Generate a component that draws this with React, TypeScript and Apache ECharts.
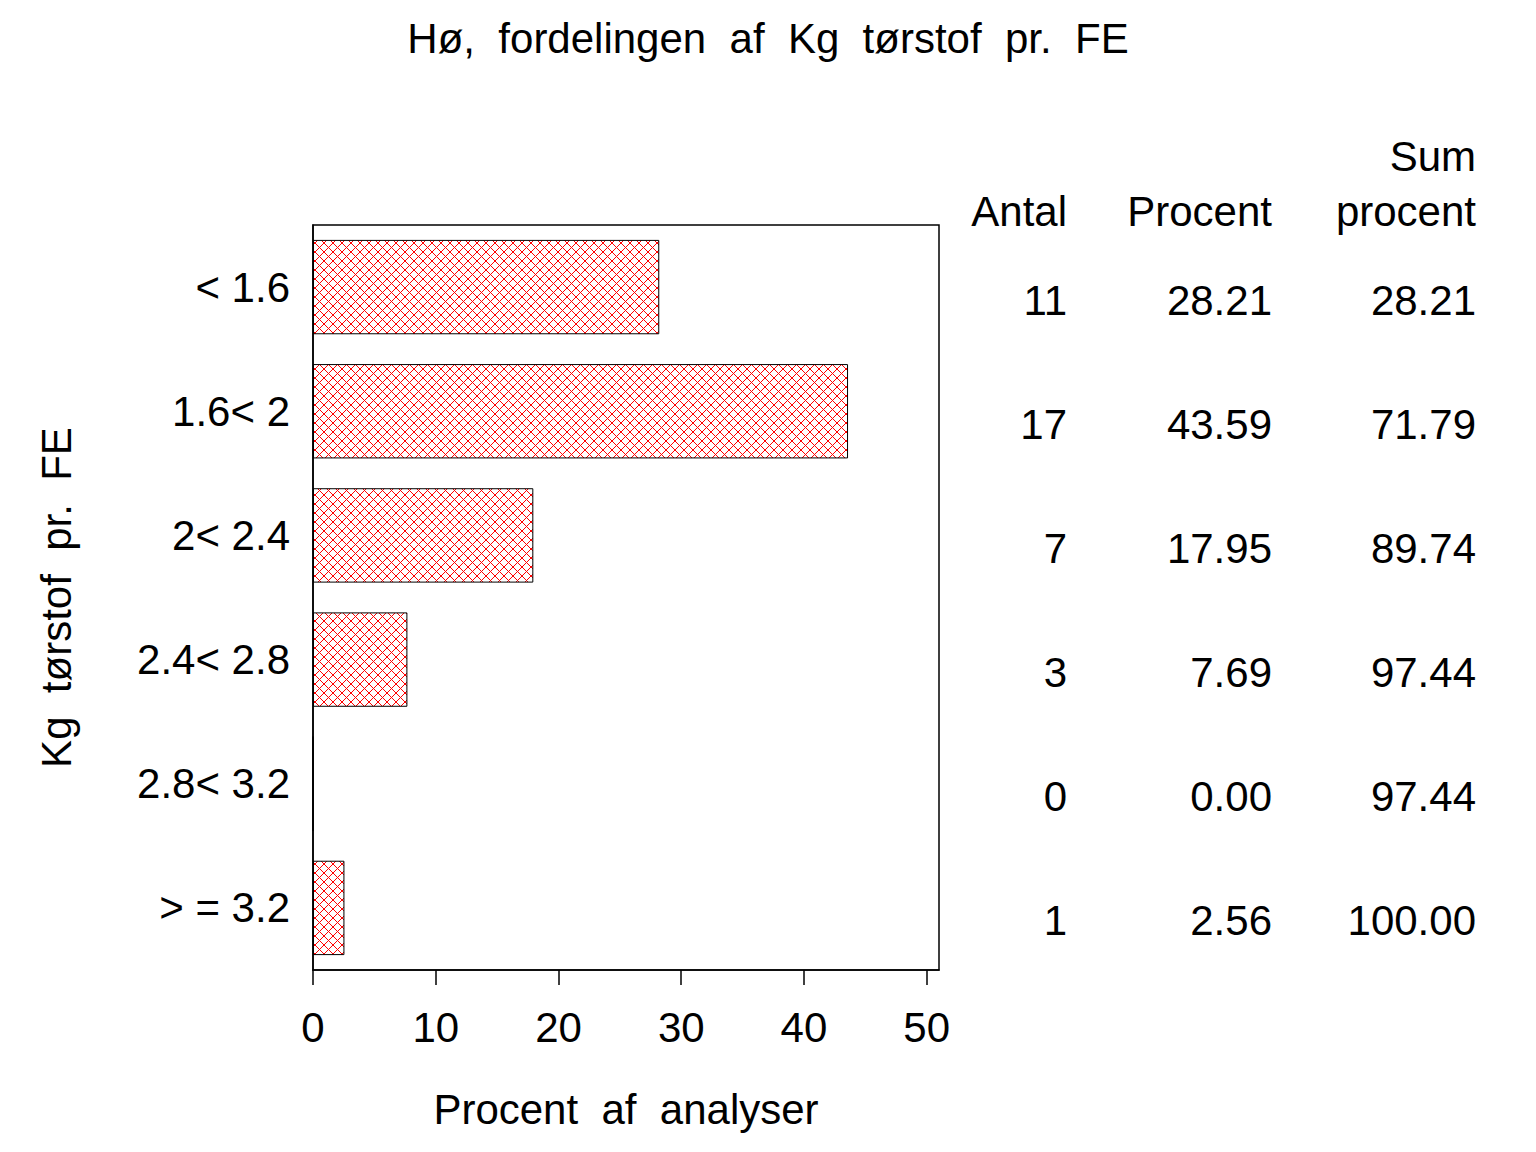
import * as echarts from 'echarts';
import { useEffect, useRef } from 'react';

const categories = ['< 1.6', '1.6< 2', '2< 2.4', '2.4< 2.8', '2.8< 3.2', '> = 3.2'];
const percent = [28.21, 43.59, 17.95, 7.69, 0.0, 2.56];
const counts = [11, 17, 7, 3, 0, 1];
const cumPercent = [28.21, 71.79, 89.74, 97.44, 97.44, 100.0];
const xTicks = [0, 10, 20, 30, 40, 50];

const FONT = "'Liberation Sans', Arial, sans-serif";

// red cross hatch tile
const makeHatch = () => {
  const c = document.createElement('canvas');
  c.width = 9;
  c.height = 9;
  const ctx = c.getContext('2d')!;
  ctx.fillStyle = '#ff0000';
  for (let i = 0; i < 9; i++) {
    ctx.fillRect(i, i, 1, 1);
    ctx.fillRect(8 - i, i, 1, 1);
  }
  return c;
};

const GRID_RIGHT = 939;

const tableAxis = (colRight: number, values: string[]) => ({
  type: 'category' as const,
  data: categories,
  inverse: true,
  position: 'right' as const,
  offset: colRight - GRID_RIGHT,
  axisLine: { show: false },
  axisTick: { show: false },
  splitLine: { show: false },
  axisLabel: {
    margin: 0,
    align: 'right' as const,
    verticalAlign: 'top' as const,
    lineHeight: 26,
    fontSize: 42,
    fontFamily: FONT,
    color: '#000',
    formatter: (_v: string, i: number) => values[i],
  },
});

const App: React.FC = () => {
  const chartRef = useRef<HTMLDivElement>(null);

  useEffect(() => {
    if (!chartRef.current) return;
    const chart = echarts.init(chartRef.current, null, { renderer: 'svg' });

    const hatch = makeHatch();

    chart.setOption({
      animation: false,
      backgroundColor: '#fff',
      title: {
        text: 'Hø,  fordelingen  af  Kg  tørstof  pr.  FE',
        left: 'center',
        top: 12,
        textStyle: { fontSize: 42, fontWeight: 'normal', fontFamily: FONT, color: '#000' },
      },
      grid: {
        left: 313,
        top: 225,
        right: 1536 - GRID_RIGHT,
        bottom: 1152 - 970,
        show: true,
        borderColor: '#000',
        borderWidth: 1.5,
        backgroundColor: 'transparent',
      },
      xAxis: {
        type: 'value',
        min: 0,
        max: 51,
        interval: 10,
        name: 'Procent  af  analyser',
        nameLocation: 'middle',
        nameGap: 118,
        nameTextStyle: { fontSize: 42, fontFamily: FONT, color: '#000' },
        axisLine: { show: true, lineStyle: { color: '#000', width: 1.5 } },
        axisTick: { show: true, length: 15, lineStyle: { color: '#000', width: 1.5 }, customValues: xTicks },
        axisLabel: {
          margin: 36,
          fontSize: 42,
          fontFamily: FONT,
          color: '#000',
          customValues: xTicks,
        },
        splitLine: { show: false },
      },
      yAxis: [
        {
          type: 'category',
          data: categories,
          inverse: true,
          name: 'Kg  tørstof  pr.  FE',
          nameLocation: 'middle',
          nameRotate: 90,
          nameGap: 236,
          nameTextStyle: { fontSize: 42, fontFamily: FONT, color: '#000' },
          axisLine: { show: true, lineStyle: { color: '#000', width: 1.5 } },
          axisTick: { show: false },
          axisLabel: {
            margin: 23,
            fontSize: 42,
            fontFamily: FONT,
            color: '#000',
          },
          splitLine: { show: false },
        },
        tableAxis(1067, counts.map((v) => String(v))),
        tableAxis(1272, percent.map((v) => v.toFixed(2))),
        tableAxis(1476, cumPercent.map((v) => v.toFixed(2))),
      ],
      graphic: [
        {
          type: 'text',
          x: 1067,
          y: 211,
          style: { text: 'Antal', fontSize: 42, fontFamily: FONT, fill: '#000', align: 'right', verticalAlign: 'middle' },
        },
        {
          type: 'text',
          x: 1272,
          y: 211,
          style: { text: 'Procent', fontSize: 42, fontFamily: FONT, fill: '#000', align: 'right', verticalAlign: 'middle' },
        },
        {
          type: 'text',
          x: 1476,
          y: 156,
          style: { text: 'Sum', fontSize: 42, fontFamily: FONT, fill: '#000', align: 'right', verticalAlign: 'middle' },
        },
        {
          type: 'text',
          x: 1476,
          y: 211,
          style: { text: 'procent', fontSize: 42, fontFamily: FONT, fill: '#000', align: 'right', verticalAlign: 'middle' },
        },
      ],
      series: [
        {
          type: 'bar',
          yAxisIndex: 0,
          data: percent,
          barCategoryGap: '24%',
          itemStyle: {
            color: { image: hatch, repeat: 'repeat', imageWidth: 9, imageHeight: 9 },
            borderColor: '#000',
            borderWidth: 1,
          },
        },
      ],
    });

    return () => {
      if (!chart.isDisposed()) chart.dispose();
    };
  }, []);

  return (
    <div
      ref={chartRef}
      style={{ position: 'absolute', left: 0, top: 0, width: '1536px', height: '1152px' }}
    ></div>
  );
};

export default App;
